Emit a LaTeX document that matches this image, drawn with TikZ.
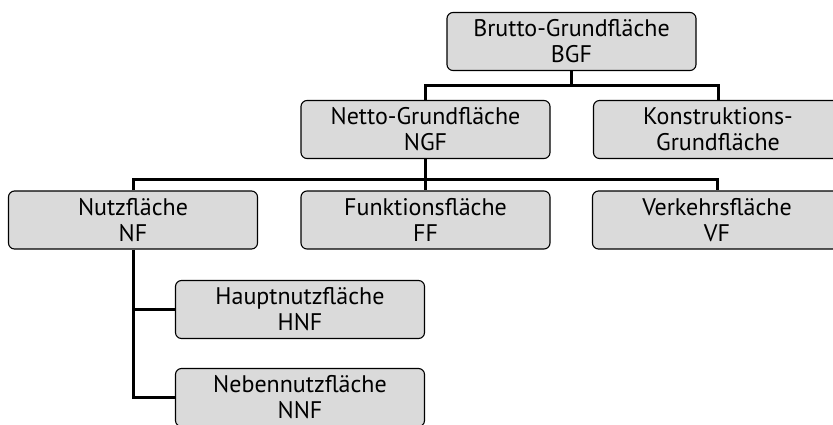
\documentclass[tikz,border=0pt]{standalone}
\usepackage{fontspec}
\setmainfont{PT Sans}
\definecolor{boxfill}{HTML}{DADADA}
\begin{document}
\begin{tikzpicture}[x=1pt,y=-1pt,
  box/.style={draw=black, line width=1.1pt, fill=boxfill, rounded corners=6pt,
    minimum width=249pt, minimum height=58pt, inner sep=0pt, align=center,
    font=\fontsize{24}{26}\selectfont},
  conn/.style={line width=3pt}]
\useasboundingbox (0,0) rectangle (833,424);
\begin{scope}
\clip (0,0) rectangle (833,424);
\node[box] (BGF) at (571.5,41.5) {Brutto-Grundfläche\\BGF};
\node[box] (NGF) at (425.5,129.5) {Netto-Grundfläche\\NGF};
\node[box] (KGF) at (718,129.5) {Konstruktions-\\Grundfläche};
\node[box] (NF) at (133,220) {Nutzfläche\\NF};
\node[box] (FF) at (425.5,220) {Funktionsfläche\\FF};
\node[box] (VF) at (717,220) {Verkehrsfläche\\VF};
\node[box] (HNF) at (300,309.5) {Hauptnutzfläche\\HNF};
\node[box] (NNF) at (300,397.5) {Nebennutzfläche\\NNF};
\coordinate (b1) at (571.5,85);
\coordinate (b2) at (425.5,179);
\draw[conn] (BGF.south) -- (b1);
\draw[conn] (NGF.north) |- (b1) -| (KGF.north);
\draw[conn] (NGF.south) -- (FF.north);
\draw[conn] (NF.north) |- (b2) -| (VF.north);
\draw[conn] (NF.south) |- (NNF.west);
\draw[conn] (NF.south |- HNF.west) -- (HNF.west);
\end{scope}
\end{tikzpicture}
\end{document}
